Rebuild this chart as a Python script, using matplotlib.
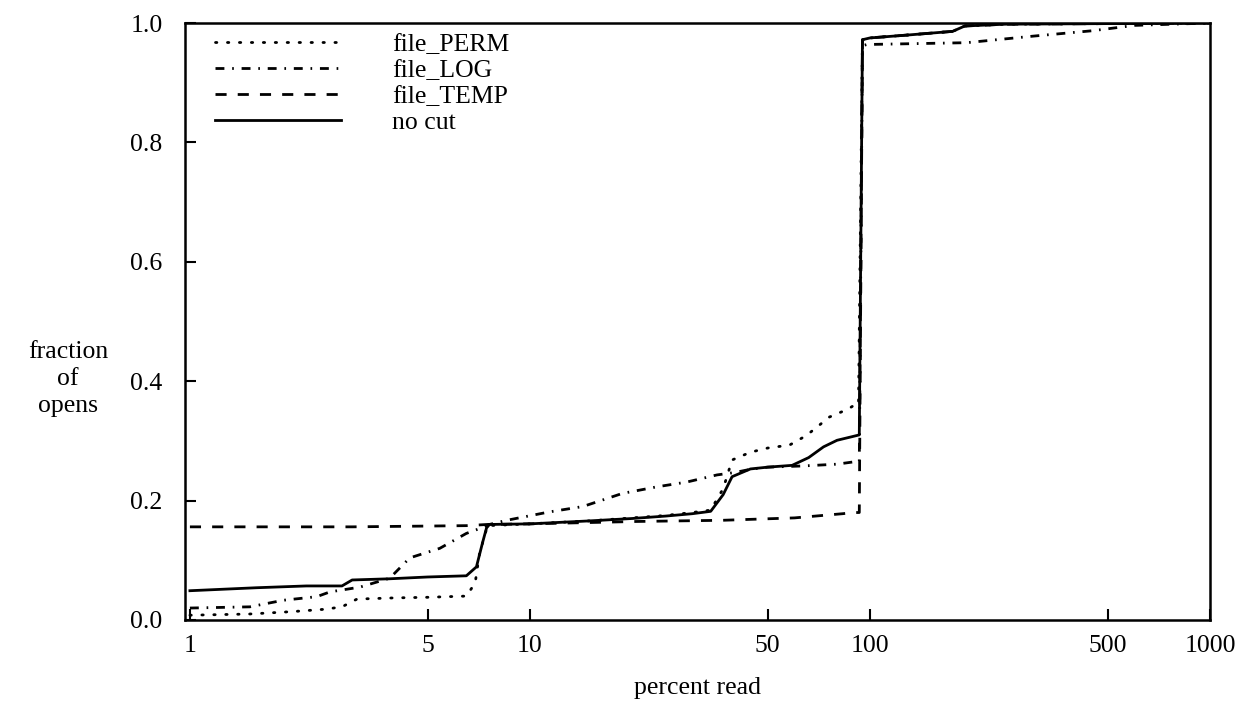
import matplotlib
matplotlib.use('Agg')
import matplotlib.pyplot as plt
from matplotlib.ticker import FixedLocator, FixedFormatter, NullLocator

plt.rcParams['font.family'] = ['Liberation Serif', 'DejaVu Serif']

# percent read (x) vs fraction of opens (y)
nocut_x = [1, 1.57, 2.2, 2.8, 3.0, 3.87, 5.0, 6.5, 6.96, 7.25, 7.45, 7.6,
           10, 15, 20, 25, 30, 34, 37, 39.3, 44.5, 50, 59, 66, 73, 80,
           87, 93, 95, 100, 130, 175, 190, 250, 1000]
nocut_y = [0.049, 0.054, 0.057, 0.057, 0.067, 0.069, 0.072, 0.074, 0.089,
           0.129, 0.154, 0.160, 0.161, 0.166, 0.170, 0.174, 0.178, 0.182,
           0.210, 0.240, 0.253, 0.256, 0.259, 0.272, 0.290, 0.301, 0.306,
           0.310, 0.972, 0.975, 0.980, 0.986, 0.995, 0.998, 1.0]

perm_x = [1, 1.5, 2.0, 2.5, 2.8, 3.1, 4.0, 5.0, 6.5, 6.9, 7.1, 7.5,
          10, 15, 20, 25, 30, 34, 37, 39.3, 44.5, 50, 58, 65, 76, 86,
          90, 92.5, 95, 100, 130, 175, 190, 250, 1000]
perm_y = [0.008, 0.010, 0.014, 0.018, 0.022, 0.035, 0.037, 0.038, 0.040,
          0.062, 0.110, 0.158, 0.161, 0.166, 0.171, 0.175, 0.180, 0.184,
          0.220, 0.268, 0.281, 0.288, 0.293, 0.309, 0.340, 0.353, 0.360,
          0.360, 0.972, 0.975, 0.980, 0.986, 0.995, 0.998, 1.0]

log_x = [1, 1.5, 1.88, 2.36, 2.58, 3.16, 3.87, 4.43, 5.43, 6.5, 7.1, 7.6,
         8.55, 11.4, 14.3, 18.7, 23.6, 28.9, 35.5, 40, 45, 50, 63.5, 80,
         90, 93, 95, 98, 192, 302, 450, 600, 1000]
log_y = [0.020, 0.022, 0.033, 0.039, 0.047, 0.055, 0.070, 0.104, 0.120,
         0.145, 0.153, 0.160, 0.167, 0.181, 0.190, 0.212, 0.223, 0.231,
         0.243, 0.247, 0.253, 0.256, 0.258, 0.261, 0.265, 0.265, 0.962,
         0.964, 0.967, 0.978, 0.987, 0.996, 1.0]

temp_x = [1, 3, 6.5, 7.5, 10, 20.6, 36.9, 60, 83, 90, 93, 95, 100, 130,
          175, 190, 250, 1000]
temp_y = [0.156, 0.156, 0.158, 0.160, 0.161, 0.165, 0.167, 0.171, 0.178,
          0.180, 0.180, 0.972, 0.975, 0.980, 0.986, 0.995, 0.998, 1.0]

x_ticks = [1, 5, 10, 50, 100, 500, 1000]
x_labels = ['1', '5', '10', '50', '100', '500', '1000']
y_ticks = [0.0, 0.2, 0.4, 0.6, 0.8, 1.0]
y_labels = ['0.0', '0.2', '0.4', '0.6', '0.8', '1.0']

FS = 18.5
LW = 2.0

fig = plt.figure(figsize=(12.43, 7.10), dpi=100)
ax = fig.add_axes([0.1488, 0.1268, 0.8247, 0.8408])

ax.plot(perm_x, perm_y, color='black', lw=LW, linestyle=(0, (0.5, 3.8)),
        dash_capstyle='round', label='file_PERM')
ax.plot(log_x, log_y, color='black', lw=LW, linestyle=(0, (3.2, 2.8, 0.6, 2.8)),
        label='file_LOG')
ax.plot(temp_x, temp_y, color='black', lw=LW, linestyle=(0, (4.0, 4.0)),
        label='file_TEMP')
ax.plot(nocut_x, nocut_y, color='black', lw=LW, linestyle='-',
        label='no cut')

ax.set_xscale('log')
ax.set_xlim(0.967, 1000)
ax.set_ylim(0, 1.0)
ax.xaxis.set_major_locator(FixedLocator(x_ticks))
ax.xaxis.set_major_formatter(FixedFormatter(x_labels))
ax.xaxis.set_minor_locator(NullLocator())
ax.set_yticks(y_ticks)
ax.set_yticklabels(y_labels)
ax.tick_params(direction='in', length=8, width=1.5, labelsize=FS,
               top=False, right=False)
ax.tick_params(axis='y', pad=16)
ax.tick_params(axis='x', pad=11)
for sp in ax.spines.values():
    sp.set_linewidth(1.8)

ax.set_xlabel('percent read', fontsize=FS, labelpad=14)
fig.text(68 / 1243, 1 - 379 / 710, 'fraction\nof\nopens', fontsize=FS,
         ha='center', va='center', linespacing=1.3)

ax.legend(loc='upper left', bbox_to_anchor=(0.029, 0.983), frameon=False,
          fontsize=FS, handlelength=4.9, handletextpad=2.0,
          labelspacing=0.12, borderpad=0, borderaxespad=0)

fig.savefig('out.png', dpi=100)
